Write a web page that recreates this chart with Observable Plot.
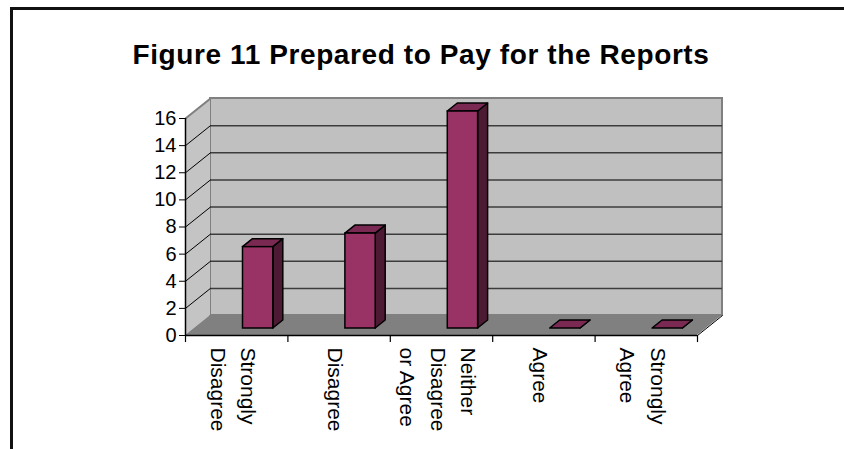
<!DOCTYPE html>
<html>
<head>
<meta charset="utf-8">
<script src="https://cdn.jsdelivr.net/npm/d3@7"></script>
<script src="https://cdn.jsdelivr.net/npm/@observablehq/plot@0.6"></script>
<style>
  html, body { margin: 0; padding: 0; background: #fff; overflow: hidden; }
  #wrap { position: relative; width: 844px; height: 449px; overflow: hidden; font-family: "Liberation Sans", Arial, sans-serif; }
  #frame { position: absolute; left: 10px; top: 7px; width: 900px; height: 500px; border-left: 3px solid #111; border-top: 3px solid #111; }
  #title { position: absolute; left: 0; width: 842px; top: 39px; text-align: center; font-weight: bold; font-size: 28px; letter-spacing: 0.6px; line-height: normal; color: #000; white-space: nowrap; }
  #chart { position: absolute; left: 0; top: 0; }
</style>
</head>
<body>
<div id="wrap">
  <div id="chart"></div>
  <div id="frame"></div>
  <div id="title">Figure 11 Prepared to Pay for the Reports</div>
</div>
<script>
// ---- data ----
const categories = ["Strongly Disagree", "Disagree", "Neither Disagree or Agree", "Agree", "Strongly Agree"];
const tickLabels = ["Strongly\nDisagree", "Disagree", "Neither\nDisagree\nor Agree", "Agree", "Strongly\nAgree"];
const values = [6, 7, 16, 0, 0];
const yTicks = [0, 2, 4, 6, 8, 10, 12, 14, 16];

// ---- layout ----
const W = 844, H = 449;
const mL = 185, mR = 147, mT = 118, mB = 114;
const nCat = categories.length;
const yMax = 16;
const depthPxX = 25, depthPxY = 20;
const dxu = depthPxX * nCat / (W - mL - mR);     // depth offset in x units
const dyu = depthPxY * yMax / (H - mT - mB);     // depth offset in y units
const barA = 0.476, barB = 0.772;                // bar extent within category (base plane)
const z0 = 0.35, z1 = 0.75;                      // bar depth range

const FRONT = "#993366", SIDE = "#4d1a33", TOP = "#7a2a52";

// geometry built from data
const fronts = values.map((v, i) => ({i, x1: i + barA + z0 * dxu, x2: i + barB + z0 * dxu, y1: z0 * dyu, y2: v + z0 * dyu}));
const sides = values.flatMap((v, i) => [z0, z1].map(z => ({i, x: i + barB + z * dxu, y1: z * dyu, y2: v + z * dyu})));
const tops = values.flatMap((v, i) => [z0, z1].map(z => ({i, y: v + z * dyu, x1: i + barA + z * dxu, x2: i + barB + z * dxu})));
const leftWall = [{x: 0, y1: 0, y2: yMax}, {x: dxu, y1: dyu, y2: yMax + dyu}];
const floor = [{y: 0, x1: 0, x2: nCat}, {y: dyu, x1: dxu, x2: nCat + dxu}];
const boundaries = d3.range(nCat + 1);

const chart = Plot.plot({
  width: W, height: H,
  marginLeft: mL, marginRight: mR, marginTop: mT, marginBottom: mB,
  style: {fontFamily: "'Liberation Sans', Arial, sans-serif", background: "transparent", color: "#000"},
  x: {type: "linear", domain: [0, nCat], axis: null},
  y: {type: "linear", domain: [0, yMax], axis: null},
  marks: [
    // back wall
    Plot.rect([0], {x1: dxu, x2: nCat + dxu, y1: dyu, y2: yMax + dyu, fill: "#c0c0c0", stroke: "#808080", strokeWidth: 2}),
    Plot.ruleY(yTicks.filter(t => t > 0 && t < yMax), {y: t => t + dyu, x1: dxu, x2: nCat + dxu, stroke: "#3c3c3c", strokeWidth: 1.5}),
    // left wall
    Plot.areaY(leftWall, {x: "x", y1: "y1", y2: "y2", fill: "#c4c4c4"}),
    Plot.link(yTicks.filter(t => t > 0 && t < yMax), {x1: 0, y1: t => t, x2: dxu, y2: t => t + dyu, stroke: "#000", strokeWidth: 1}),
    Plot.link([yMax], {x1: 0, y1: t => t, x2: dxu, y2: t => t + dyu, stroke: "#808080", strokeWidth: 2}),
    // floor
    Plot.areaX(floor, {y: "y", x1: "x1", x2: "x2", fill: "#808080"}),
    Plot.link([0], {x1: nCat, y1: 0, x2: nCat + dxu, y2: dyu, stroke: "#000", strokeWidth: 1}),
    // bars
    Plot.areaY(sides, {x: "x", y1: "y1", y2: "y2", z: "i", fill: SIDE, stroke: "#000", strokeWidth: 1.5, strokeLinejoin: "round"}),
    Plot.areaX(tops, {y: "y", x1: "x1", x2: "x2", z: "i", fill: TOP, stroke: "#000", strokeWidth: 1.5, strokeLinejoin: "round"}),
    Plot.rect(fronts, {x1: "x1", x2: "x2", y1: "y1", y2: "y2", fill: FRONT, stroke: "#000", strokeWidth: 1.5}),
    // axes
    Plot.ruleX([0], {y1: 0, y2: yMax, stroke: "#000", strokeWidth: 1.5}),
    Plot.ruleY([0], {x1: 0, x2: nCat, stroke: "#000", strokeWidth: 1.5}),
    Plot.ruleX(boundaries, {y1: 0, y2: -0.52, stroke: "#000", strokeWidth: 1.2}),
    Plot.axisY(yTicks, {tickSize: 6, tickPadding: 3, fontSize: 20, stroke: "#000", fill: "#000", label: null}),
    Plot.text(tickLabels, {x: (d, i) => i + 0.5, y: 0, dx: -1, dy: 12, rotate: 90, textAnchor: "start", lineAnchor: "middle", lineHeight: 1.45, fontSize: 21, fill: "#000"})
  ]
});
document.getElementById("chart").append(chart);
</script>
</body>
</html>
